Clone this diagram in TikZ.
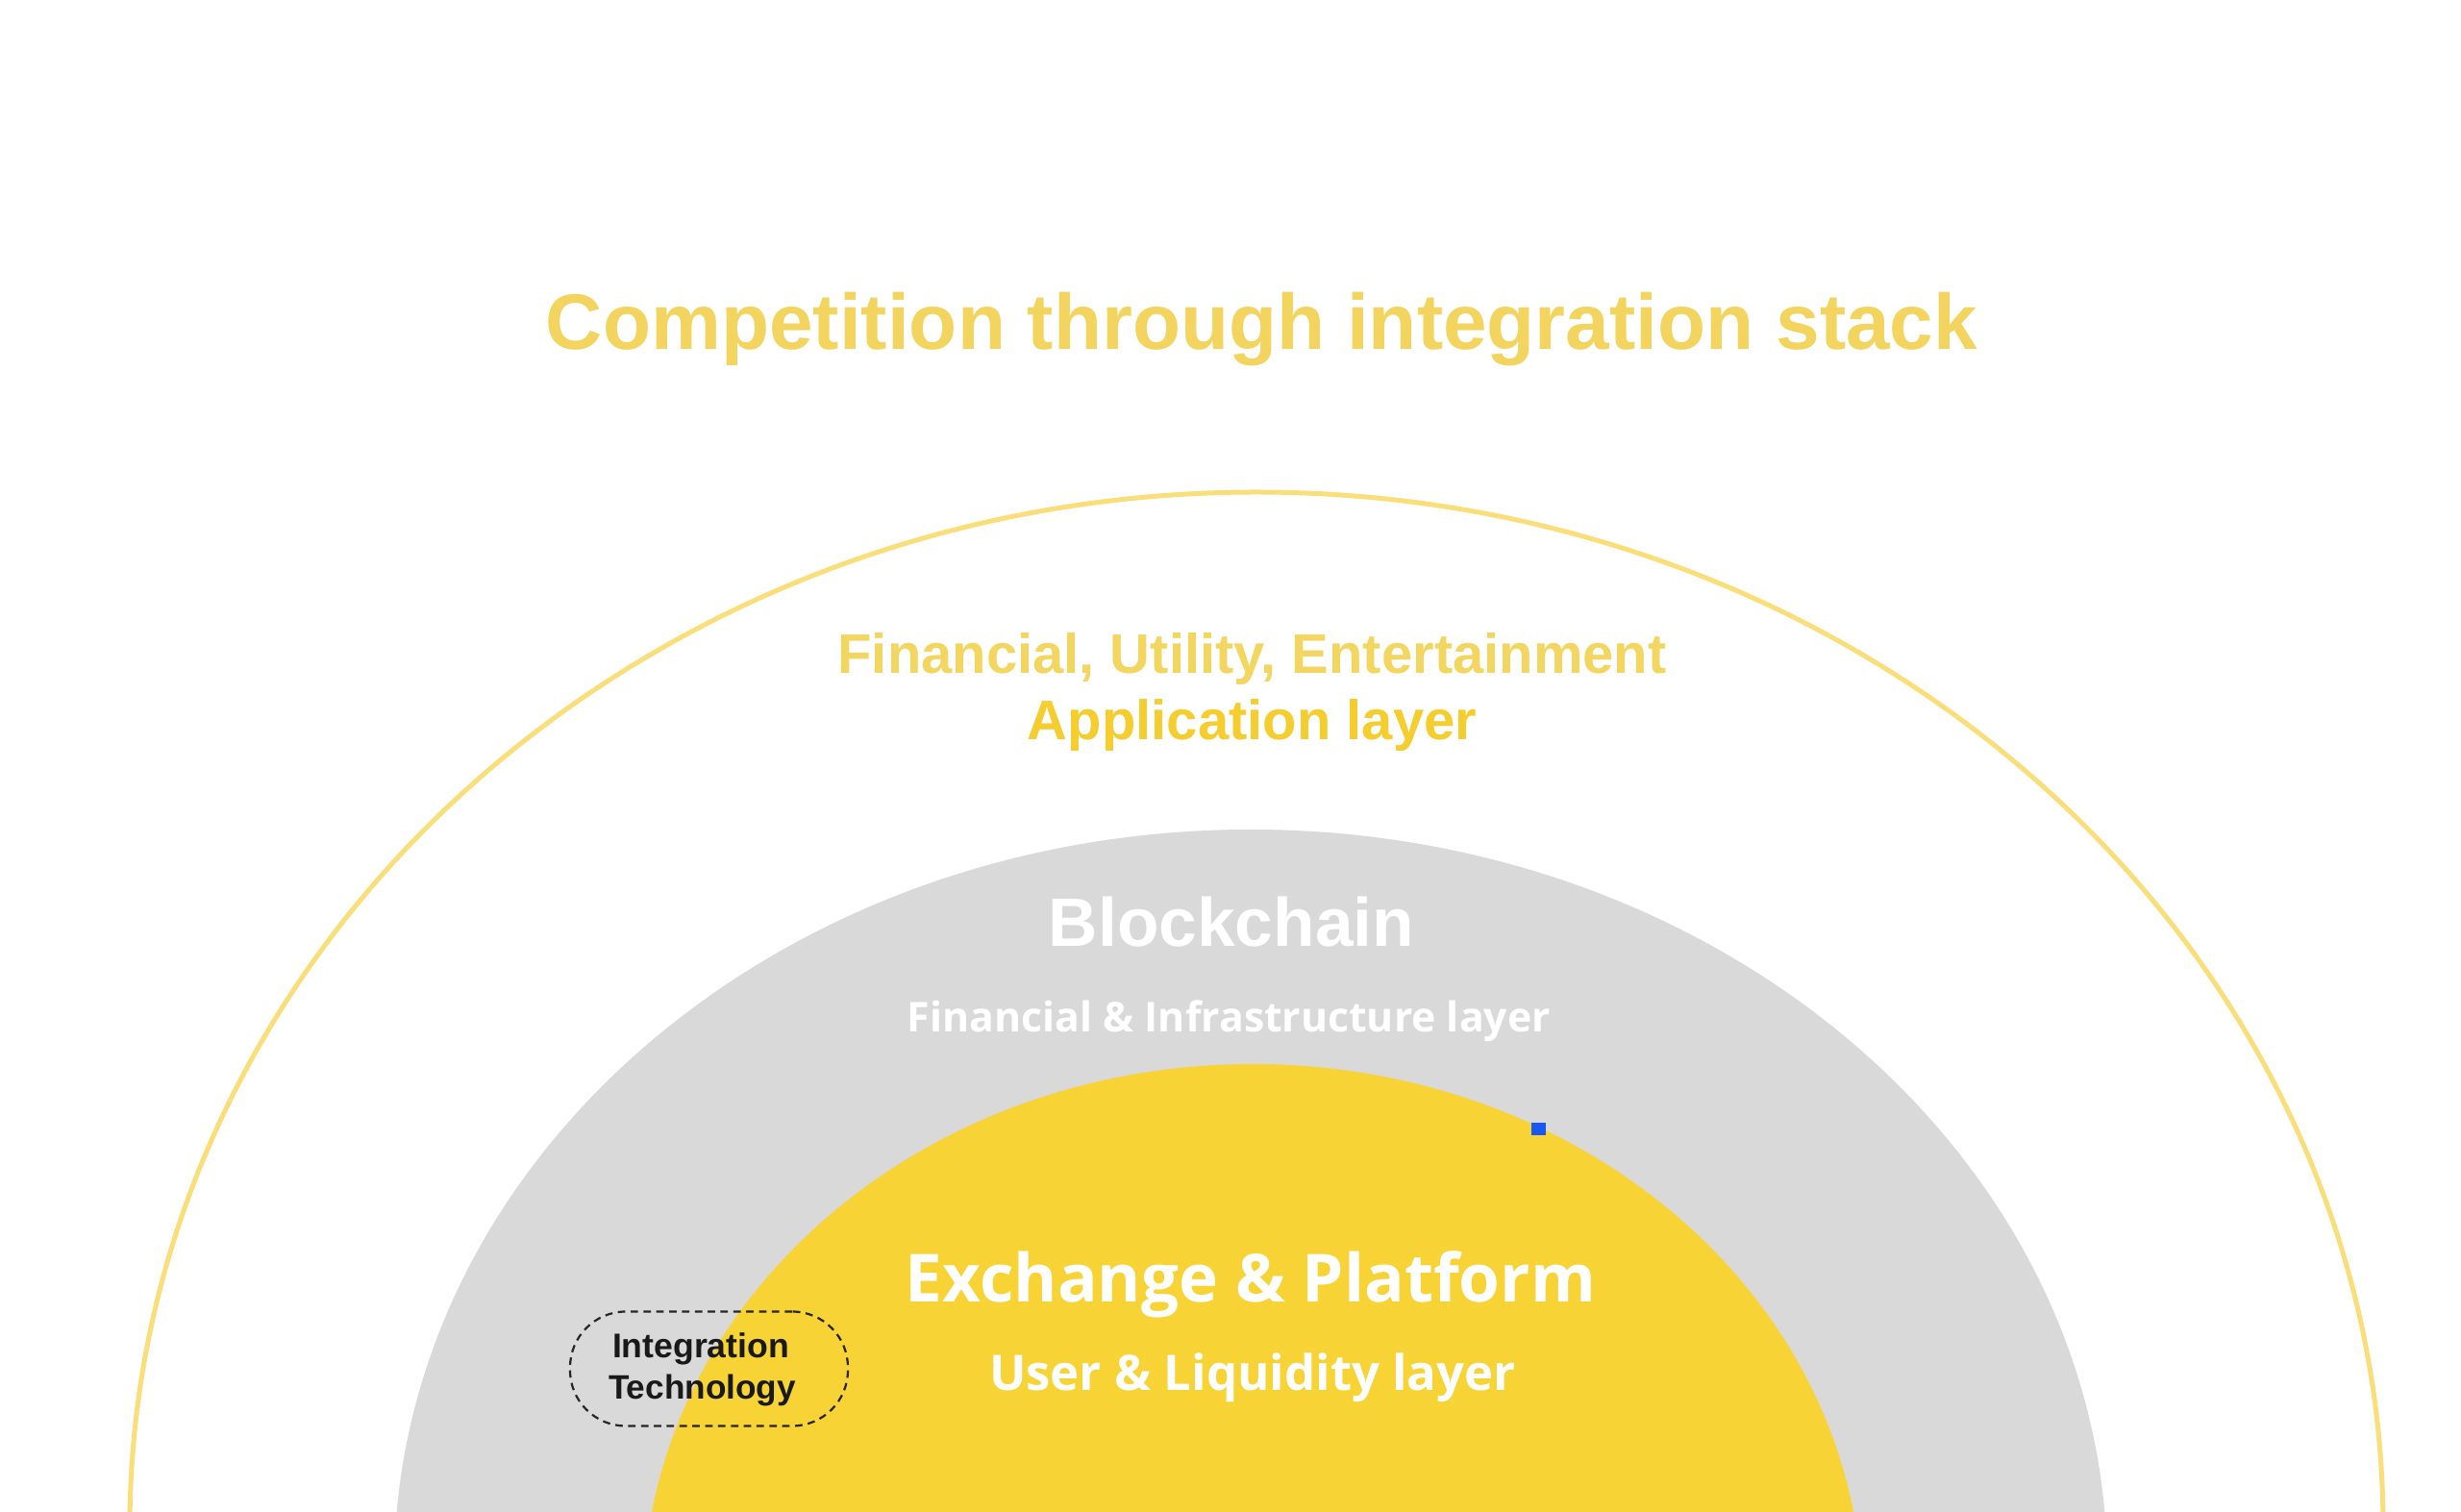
\documentclass[tikz,border=0pt]{standalone}
\usepackage{fontspec}
\setmainfont{Liberation Sans}
\newfontfamily\opensans{Open Sans}
\usetikzlibrary{shapes.geometric}
\definecolor{titleyellow}{HTML}{F2D45E}
\definecolor{ringyellow}{HTML}{F9DE7A}
\definecolor{appyellow}{HTML}{F5CD2E}
\definecolor{finyellow}{HTML}{F3D660}
\definecolor{midgray}{HTML}{D9D9D9}
\definecolor{coreyellow}{HTML}{F7D335}
\definecolor{markblue}{HTML}{1A56F0}
\newcommand{\fitw}[2]{\resizebox{#1}{!}{#2}}
\tikzset{
  lbl/.style={inner sep=0pt, outer sep=0pt, anchor=center},
  intbox/.style={draw=black!85, line width=0.022cm, dash pattern=on 2.2pt off 1.6pt,
    rounded corners=0.58cm, minimum width=2.89cm, minimum height=1.19cm, inner sep=0pt}
}
\begin{document}
\begin{tikzpicture}
\useasboundingbox (0,0) rectangle (25.6,15.73);
\fill[white] (0,0) rectangle (25.6,15.73);
\begin{scope}
\clip (0,0) rectangle (25.6,15.73);
% outer ring (application layer)
\draw[ringyellow, line width=0.05cm] (13.07,-0.17) ellipse [x radius=11.72, y radius=10.78];
% blockchain layer
\fill[midgray] (13.01,-0.60) ellipse [x radius=8.91, y radius=7.70];
% core layer
\fill[coreyellow] (13.03,-0.95) ellipse [x radius=6.34, y radius=5.61];
\end{scope}

% title
\node[lbl, text=titleyellow, font=\bfseries] (title) at (13.125,12.30)
  {\fitw{14.89cm}{Competition through integration stack}};

% application layer
\node[lbl, text=finyellow, font=\bfseries] (apps) at (13.025,8.87)
  {\fitw{8.62cm}{Financial, Utility, Entertainment}};
\node[lbl, text=appyellow, font=\bfseries] (applayer) at (13.025,8.18)
  {\fitw{4.67cm}{Application layer}};

% blockchain layer
\node[lbl, text=white, font=\bfseries] (chain) at (12.81,6.14)
  {\fitw{3.80cm}{Blockchain}};
\node[lbl, text=white, font=\opensans\bfseries] (chainlayer) at (12.785,5.11)
  {\fitw{6.69cm}{Financial \& Infrastructure layer}};

% core layer
\node[lbl, text=white, font=\opensans\bfseries] (core) at (13.01,2.37)
  {\fitw{7.18cm}{Exchange \& Platform}};
\node[lbl, text=white, font=\opensans\bfseries] (corelayer) at (13.03,1.40)
  {\fitw{5.48cm}{User \& Liquidity layer}};

% integration technology bubble
\node[intbox] (integ) at (7.375,1.49) {};
\node[lbl, text=black!90, font=\bfseries] (integ1) at (7.29,1.70)
  {\fitw{1.84cm}{Integration}};
\node[lbl, text=black!90, font=\bfseries] (integ2) at (7.305,1.27)
  {\fitw{1.95cm}{Technology}};

% small marker
\node[fill=markblue, minimum width=0.15cm, minimum height=0.13cm, inner sep=0pt] (marker) at (16.005,3.985) {};
\end{tikzpicture}
\end{document}
